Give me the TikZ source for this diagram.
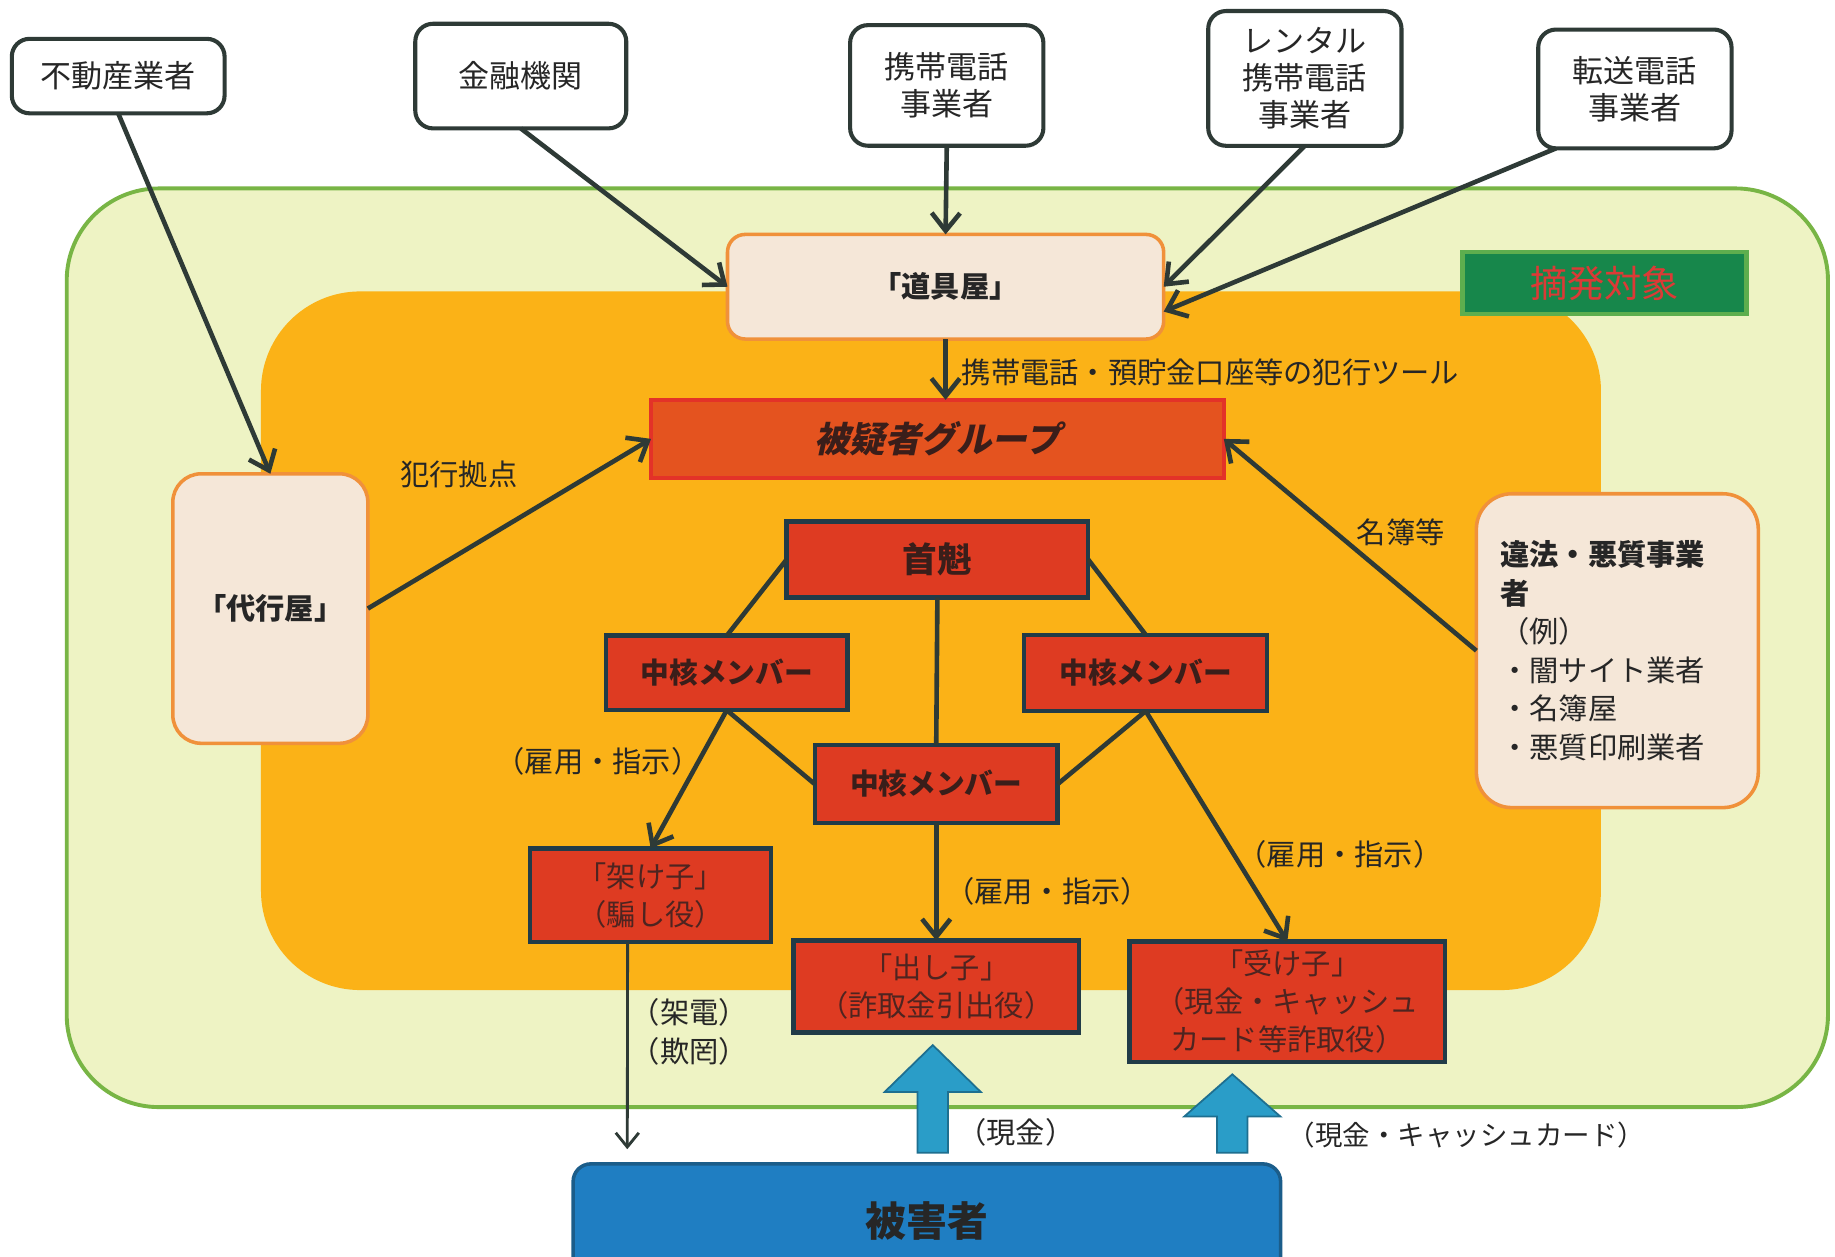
\documentclass[tikz,border=0pt]{standalone}
\usepackage{fontspec}
\setmainfont{Noto Sans CJK JP}
\newfontfamily\slantjp{Noto Sans CJK JP}[FakeSlant=0.22]
\usepackage{tikz}
\usetikzlibrary{positioning,arrows.meta}

\definecolor{linegray}{HTML}{2E3A36}
\definecolor{textdark}{HTML}{262626}
\definecolor{zonefill}{HTML}{EEF3C4}
\definecolor{zoneline}{HTML}{78B545}
\definecolor{gangfill}{HTML}{FBB217}
\definecolor{beigefill}{HTML}{F5E7D8}
\definecolor{beigeline}{HTML}{F0913A}
\definecolor{targetfill}{HTML}{17874B}
\definecolor{targetline}{HTML}{5DAE4E}
\definecolor{targettext}{HTML}{DC3A36}
\definecolor{groupfill}{HTML}{E4531F}
\definecolor{groupline}{HTML}{E33228}
\definecolor{redfill}{HTML}{DE3B22}
\definecolor{redline}{HTML}{213B48}
\definecolor{redtext}{HTML}{3A1E1A}
\definecolor{roletext}{HTML}{4E2420}
\definecolor{victimfill}{HTML}{1F7EC2}
\definecolor{victimline}{HTML}{1B5D8A}
\definecolor{cashfill}{HTML}{2A9DC8}
\definecolor{cashline}{HTML}{1E6F90}

\begin{document}
\begin{tikzpicture}[x=0.66pt, y=-0.66pt,
        >={Straight Barb[length=10pt, width=16pt]},
        outsidernode/.style={draw=linegray, line width=2.3pt, rounded corners=10pt, fill=white, text=textdark, align=center, inner sep=0pt, outer sep=0pt, font=\fontsize{17.5}{21}\selectfont},
        beigenode/.style={draw=beigeline, line width=2pt, fill=beigefill, text=textdark, align=center, inner sep=0pt, outer sep=0pt, font=\bfseries\fontsize{16.5}{20}\selectfont},
        rednode/.style={draw=redline, line width=2.5pt, fill=redfill, text=redtext, align=center, inner sep=0pt, outer sep=0pt, font=\bfseries\fontsize{16.2}{21}\selectfont},
        rolenode/.style={draw=redline, line width=2.5pt, fill=redfill, text=roletext, align=center, inner sep=0pt, outer sep=0pt, font=\fontsize{16.5}{21.5}\selectfont},
        labeltext/.style={text=textdark, inner sep=1pt, font=\fontsize{16.5}{22}\selectfont},
        link/.style={draw=linegray, line width=2.6pt},
        thinlink/.style={draw=linegray, line width=1.6pt, >={Straight Barb[length=8pt, width=13pt]}},
        cashflow/.style={fill=cashfill, draw=cashline, line width=1pt},
]
        \useasboundingbox (0,0) rectangle (1568,1074);
        \fill[white] (0,0) rectangle (1568,1074);
        \draw[fill=zonefill, draw=zoneline, line width=2.2pt, rounded corners=52pt] (57,161) rectangle (1562,946);
        \fill[gangfill, rounded corners=56pt] (223,249) rectangle (1368,846);

        \node[outsidernode, minimum width=120pt, minimum height=42pt] (realestate) at (101,65) {不動産業者};
        \node[outsidernode, minimum width=119pt, minimum height=59pt] (finance) at (445,65) {金融機関};
        \node[outsidernode, minimum width=109pt, minimum height=68pt] (mobile) at (809,73) {携帯電話\\事業者};
        \node[outsidernode, minimum width=109pt, minimum height=76pt] (rental) at (1115,67) {レンタル\\携帯電話\\事業者};
        \node[outsidernode, minimum width=109pt, minimum height=67pt] (forward) at (1397,76) {転送電話\\事業者};

        \node[beigenode, rounded corners=10pt, minimum width=246pt, minimum height=59pt] (tools) at (808,245) {「道具屋」};
        \node[draw=targetline, line width=2.5pt, fill=targetfill, text=targettext, inner sep=0pt, minimum width=160pt, minimum height=35pt, font=\fontsize{21}{24}\selectfont] (target) at (1371,242) {摘発対象};
        \node[draw=groupline, line width=2pt, fill=groupfill, text=redtext, inner sep=0pt, outer sep=0pt, minimum width=323pt, minimum height=44pt, font=\slantjp\bfseries\fontsize{20}{24}\selectfont] (group) at (801,375) {被疑者グループ};
        \node[beigenode, rounded corners=16pt, minimum width=110pt, minimum height=152pt] (proxy) at (231,520) {「代行屋」};
        \node[beigenode, rounded corners=20pt, align=left, text width=132pt, minimum width=159pt, minimum height=177pt, font=\fontsize{16.5}{21.8}\selectfont] (illegal) at (1382,556) {{\bfseries 違法・悪質事業}\\{\bfseries 者}\\（例）\\・闇サイト業者\\・名簿屋\\・悪質印刷業者};

        \node[rednode, minimum width=170pt, minimum height=43pt, font=\bfseries\fontsize{19.5}{22}\selectfont] (boss) at (801,478) {首魁};
        \node[rednode, minimum width=136pt, minimum height=42pt] (coreleft) at (621,575) {中核メンバー};
        \node[rednode, minimum width=137pt, minimum height=43pt] (coreright) at (979,575) {中核メンバー};
        \node[rednode, minimum width=137pt, minimum height=44pt] (corecenter) at (800,670) {中核メンバー};
        \node[rolenode, minimum width=136pt, minimum height=53pt] (caller) at (556,765) {「架け子」\\（騙し役）};
        \node[rolenode, minimum width=161pt, minimum height=52pt] (withdraw) at (800,843) {「出し子」\\（詐取金引出役）};
        \node[rolenode, minimum width=178pt, minimum height=68pt] (receiver) at (1100,856) {「受け子」\\（現金・キャッシュ\\カード等詐取役）};
        \node[draw=victimline, line width=2pt, fill=victimfill, text=textdark, rounded corners=10pt, inner sep=0pt, minimum width=399pt, minimum height=64pt, font=\bfseries\fontsize{23}{26}\selectfont] (victim) at (792,1043) {被害者};

        \node[labeltext] (baselabel) at (392,405) {犯行拠点};
        \node[labeltext, anchor=west] (toollabel) at (820,318) {携帯電話・預貯金口座等の犯行ツール};
        \node[labeltext] (listlabel) at (1197,455) {名簿等};
        \node[labeltext] (hireleft) at (511,651) {（雇用・指示）};
        \node[labeltext] (hirecenter) at (895,762) {（雇用・指示）};
        \node[labeltext] (hireright) at (1145,730) {（雇用・指示）};
        \node[labeltext, align=center] (calllabel) at (589,882) {（架電）\\（欺罔）};
        \node[labeltext] (cashlabel) at (868,968) {（現金）};
        \node[labeltext, font=\fontsize{15.5}{20}\selectfont] (cardlabel) at (1253,970) {（現金・キャッシュカード）};

        \draw[link,->] (realestate.south) -- (proxy.north);
        \draw[link,->] (finance.south) -- (tools.west);
        \draw[link,->] (mobile.south) -- (tools.north);
        \draw[link,->] (rental.south) -- (tools.east);
        \draw[link,->] ([xshift=10pt]forward.south west) -- ([yshift=-14pt]tools.east);
        \draw[link,->] (tools.south) -- (tools.south |- group.north);
        \draw[link,->] (proxy.east) -- (group.west);
        \draw[link,->] (illegal.west) -- (group.east);

        \draw[link] (boss.west) -- (coreleft.north);
        \draw[link] (boss.east) -- (coreright.north);
        \draw[link] (boss.south) -- (corecenter.north);
        \draw[link] (coreleft.south) -- (corecenter.west);
        \draw[link] (coreright.south) -- (corecenter.east);
        \draw[link,->] (coreleft.south) -- (caller.north);
        \draw[link,->] (corecenter.south) -- (withdraw.north);
        \draw[link,->] (coreright.south) -- (receiver.north);

        \coordinate (callend) at (536,982);
        \draw[thinlink,->] ([xshift=-13pt]caller.south) -- (callend);

        \coordinate (cashfoot) at (797,985);
        \coordinate (cardfoot) at (1053,985);
        \draw[cashflow] (cashfoot) ++(-13,0) -- ++(0,-52) -- ++(-28,0) -- ++(41,-40) -- ++(41,40) -- ++(-28,0) -- ++(0,52) -- cycle;
        \draw[cashflow] (cardfoot) ++(-13,0) -- ++(0,-31) -- ++(-28,0) -- ++(41,-36) -- ++(41,36) -- ++(-28,0) -- ++(0,31) -- cycle;
\end{tikzpicture}
\end{document}
